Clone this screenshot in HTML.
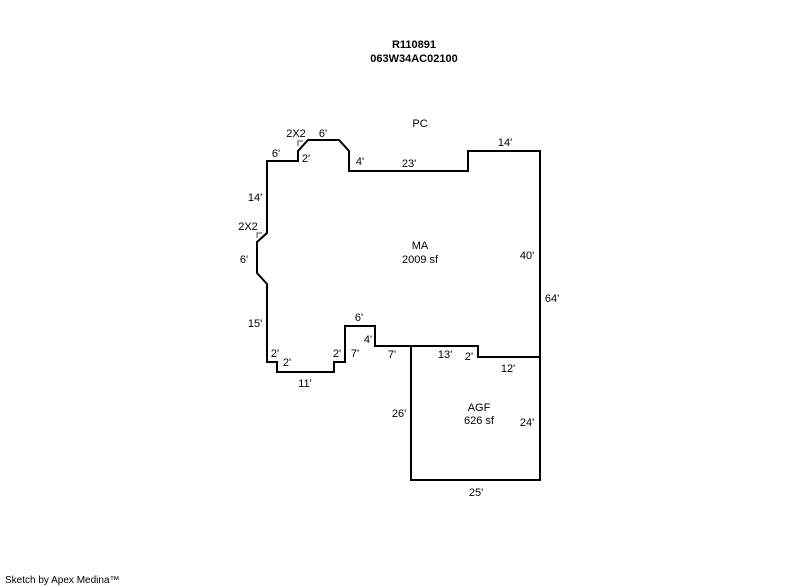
<!DOCTYPE html>
<html><head><style>
html,body{margin:0;padding:0;background:#fff;}
svg{display:block;}
text{font-family:"Liberation Sans",sans-serif;font-size:11px;fill:#000;}
.b{font-weight:bold;}
</style></head><body>
<svg width="800" height="587" viewBox="0 0 800 587" xmlns="http://www.w3.org/2000/svg">
<text class="b" x="414" y="48" text-anchor="middle">R110891</text>
<text class="b" x="414" y="62" text-anchor="middle">063W34AC02100</text>
<text x="420" y="127" text-anchor="middle">PC</text>
<g fill="none" stroke="#000" stroke-width="2">
<polyline points="540,356 540,151 468,151 468,171 349,171 349,151 339,140 308,140 298,151 298,161 267,161 267,233 257,242 257,273 267,284 267,362 277,362 277,372 334,372 334,362 345,362 345,326 375,326 375,346 478,346 478,357 540,357"/>
<polyline points="411,346 411,480 540,480 540,356"/>
</g>
<g fill="none" stroke="#888" stroke-width="1.5">
<polyline points="298,146 298,141 303,141"/>
<polyline points="257,238 257,233 262,233"/>
</g>
<text x="296" y="137" text-anchor="middle">2X2</text>
<text x="323" y="137" text-anchor="middle">6'</text>
<text x="276" y="157" text-anchor="middle">6'</text>
<text x="306" y="162" text-anchor="middle">2'</text>
<text x="360" y="165" text-anchor="middle">4'</text>
<text x="409" y="167" text-anchor="middle">23'</text>
<text x="505" y="146" text-anchor="middle">14'</text>
<text x="255" y="201" text-anchor="middle">14'</text>
<text x="248" y="230" text-anchor="middle">2X2</text>
<text x="244" y="263" text-anchor="middle">6'</text>
<text x="420" y="249" text-anchor="middle">MA</text>
<text x="420" y="263" text-anchor="middle">2009 sf</text>
<text x="527" y="259" text-anchor="middle">40'</text>
<text x="552" y="302" text-anchor="middle">64'</text>
<text x="255" y="327" text-anchor="middle">15'</text>
<text x="359" y="321" text-anchor="middle">6'</text>
<text x="368" y="343" text-anchor="middle">4'</text>
<text x="275" y="357" text-anchor="middle">2'</text>
<text x="287" y="366" text-anchor="middle">2'</text>
<text x="337" y="357" text-anchor="middle">2'</text>
<text x="355" y="357" text-anchor="middle">7'</text>
<text x="392" y="358" text-anchor="middle">7'</text>
<text x="445" y="358" text-anchor="middle">13'</text>
<text x="469" y="360" text-anchor="middle">2'</text>
<text x="508" y="372" text-anchor="middle">12'</text>
<text x="305" y="387" text-anchor="middle">11'</text>
<text x="479" y="411" text-anchor="middle">AGF</text>
<text x="479" y="424" text-anchor="middle">626 sf</text>
<text x="399" y="417" text-anchor="middle">26'</text>
<text x="527" y="426" text-anchor="middle">24'</text>
<text x="476" y="496" text-anchor="middle">25'</text>
<text x="5" y="583" style="font-size:10px">Sketch by Apex Medina™</text>
</svg>
</body></html>
